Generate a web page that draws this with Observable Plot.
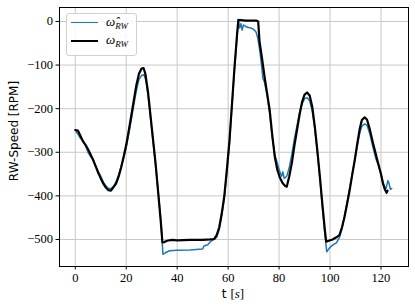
<!DOCTYPE html>
<html>
<head>
<meta charset="utf-8">
<script src="https://cdn.jsdelivr.net/npm/d3@7"></script>
<script src="https://cdn.jsdelivr.net/npm/@observablehq/plot@0.6"></script>
<style>
  html, body { margin: 0; padding: 0; background: #fff; }
  #wrap { position: relative; width: 415px; height: 308px; }
  #wrap svg text { font-family: "Liberation Serif", serif !important; }
  .lbl { position: absolute; white-space: nowrap; color: #000; }
  .serif { font-family: "Liberation Serif", serif; }
  #legend { position: absolute; left: 66px; top: 13px; width: 71px; height: 43px;
            border: 1px solid #d0d0d0; border-radius: 3px; background: rgba(255,255,255,0.85);
            box-sizing: border-box; }
  .lg-line { position: absolute; left: 4px; width: 27px; height: 0; }
  .lg-text { position: absolute; left: 39px; font-style: italic; font-size: 13px; line-height: 15px; }
  .lg-text sub { font-size: 9px; vertical-align: -3px; }
</style>
</head>
<body>
<div id="wrap"></div>
<script>
// Measured (black) reaction-wheel speed
const tMeas = [0,1,2,3,4,5,6,7,8,9,10,11,12,13,14,15,16,17,18,19,20,21,22,23,24,25,26,26.8,27.5,28.5,29.5,30.5,31.5,32.5,33.5,34.2,35,36,38,40,45,50,53,54.5,55.5,56.5,57.5,58.5,59.5,60.5,61.5,62.5,63.5,64,65,67,69,71,71.8,72.3,73.3,74.3,75.3,76.3,77.3,78.3,79.3,80.3,81.3,82.3,83,84,85,86,87,88,89,90,91,92,93,94,95,96,97,98,98.5,99.5,101,102.5,103.7,104.7,105.7,106.7,107.7,108.7,109.7,110.7,111.7,112.5,113.6,114.5,115.5,116.9,118,118.9,120,120.8,121.5,122.2,122.6];
const wMeas = [-249,-250,-262,-275,-283,-293,-305,-318,-332,-347,-360,-372,-381,-387,-388,-380,-372,-356,-335,-310,-283,-250,-215,-180,-145,-120,-108,-107,-120,-160,-215,-270,-325,-390,-455,-507,-506,-503,-501,-502,-501,-501,-500,-499,-490,-472,-440,-400,-340,-275,-190,-105,-30,3,3,2,2,2,0,-45,-85,-127,-165,-203,-260,-310,-340,-358,-370,-377,-379,-355,-325,-285,-250,-215,-185,-168,-163,-170,-195,-240,-295,-355,-420,-480,-505,-503,-500,-495,-490,-472,-448,-418,-387,-352,-318,-280,-245,-226,-220,-225,-245,-280,-305,-326,-350,-372,-385,-393,-388];

// Estimated (blue) reaction-wheel speed
const tEst = [0,1,2,3,4,5,6,7,8,9,10,11,12,13,14,15,16,17,18,19,20,21,22,23,24,25,26,27,27.7,28.7,29.7,30.7,31.7,32.7,33.7,34.4,35.5,37,40,45,50,50.5,52,53,54.5,55.5,56.5,57.5,58.5,59.5,60.5,61.5,62.5,63.5,64,64.5,65,65.5,66,67,68,69,70,71,71.7,72.5,73.3,73.6,74.3,75.3,76.3,77.3,78.3,79.3,80.3,81,81.5,82,83,84,85,86,87,88,89,90,91,92,93,94,95,96,97,98,98.7,100,101,102.5,103.7,104.7,105.7,106.7,107.7,108.7,109.7,110.7,111.7,112.5,113.6,114.5,115.5,116.9,118,119,120,120.8,121.5,122,122.7,123.2,123.7,124.2];
const wEst = [-250,-258,-268,-272,-285,-300,-310,-315,-333,-345,-355,-368,-377,-383,-383,-378,-368,-352,-332,-312,-288,-258,-225,-190,-158,-133,-124,-122,-135,-175,-230,-285,-340,-400,-465,-534,-530,-526,-525,-524,-522,-515,-512,-505,-500,-495,-478,-445,-405,-345,-280,-195,-110,-35,5,-15,-5,-20,-8,-12,-14,-15,-18,-25,-40,-70,-110,-130,-140,-170,-210,-265,-305,-325,-345,-355,-345,-360,-355,-335,-305,-270,-240,-210,-190,-177,-175,-182,-205,-245,-300,-360,-425,-490,-528,-518,-513,-508,-495,-475,-445,-415,-382,-350,-318,-285,-255,-240,-235,-238,-255,-290,-315,-330,-350,-370,-380,-383,-365,-372,-385,-383];

const xTicks = [0, 20, 40, 60, 80, 100, 120];
const yTicks = [0, -100, -200, -300, -400, -500];

const meas = tMeas.map((t, i) => ({t, w: wMeas[i]}));
const est = tEst.map((t, i) => ({t, w: wEst[i]}));

const fmt = d => d < 0 ? "\u2212" + Math.abs(d) : String(d);

const chart = Plot.plot({
  width: 415,
  height: 308,
  marginLeft: 59,
  marginRight: 7,
  marginTop: 7,
  marginBottom: 42,
  style: {fontSize: "12.5px", background: "#fff", color: "#000"},
  x: {domain: [-6.2, 130.8]},
  y: {domain: [-562, 32]},
  marks: [
    Plot.gridX(xTicks, {stroke: "#c8c8c8", strokeOpacity: 1, strokeWidth: 1}),
    Plot.gridY(yTicks, {stroke: "#c8c8c8", strokeOpacity: 1, strokeWidth: 1}),
    Plot.line(est, {x: "t", y: "w", stroke: "#1f77b4", strokeWidth: 1.5}),
    Plot.line(meas, {x: "t", y: "w", stroke: "#000", strokeWidth: 2.2}),
    Plot.axisX(xTicks, {tickSize: 3.5, tickPadding: 3, tickFormat: fmt, label: null, fontSize: 12.5}),
    Plot.axisY(yTicks, {tickSize: 3.5, tickPadding: 3, tickFormat: fmt, label: null, fontSize: 12.5}),
    Plot.frame({stroke: "#000", strokeWidth: 1})
  ]
});

const wrap = document.getElementById("wrap");
chart.style.position = "absolute";
chart.style.left = "0px";
chart.style.top = "0px";
wrap.appendChild(chart);

// axis labels
const xl = document.createElement("div");
xl.className = "lbl";
xl.style.cssText = "left:233px; top:286px; transform:translateX(-50%); font-family:'DejaVu Sans',sans-serif; font-size:12px;";
xl.innerHTML = "t <span class=\"serif\" style=\"font-size:13px\">[<i>s</i>]</span>";
wrap.appendChild(xl);

const yl = document.createElement("div");
yl.className = "lbl";
yl.style.cssText = "left:14px; top:131px; transform:translate(-50%,-50%) rotate(-90deg); font-family:'DejaVu Sans',sans-serif; font-size:12px;";
yl.textContent = "RW-Speed [RPM]";
wrap.appendChild(yl);

// legend
const lg = document.createElement("div");
lg.id = "legend";
lg.innerHTML =
  '<div class="lg-line" style="top:8px; border-top:1.5px solid #1f77b4;"></div>' +
  '<div class="lg-text serif" style="top:0px;">\u03C9\u0302<sub>RW</sub></div>' +
  '<div class="lg-line" style="top:26px; border-top:2px solid #000;"></div>' +
  '<div class="lg-text serif" style="top:18px;">\u03C9<sub>RW</sub></div>';
wrap.appendChild(lg);
</script>
</body>
</html>
